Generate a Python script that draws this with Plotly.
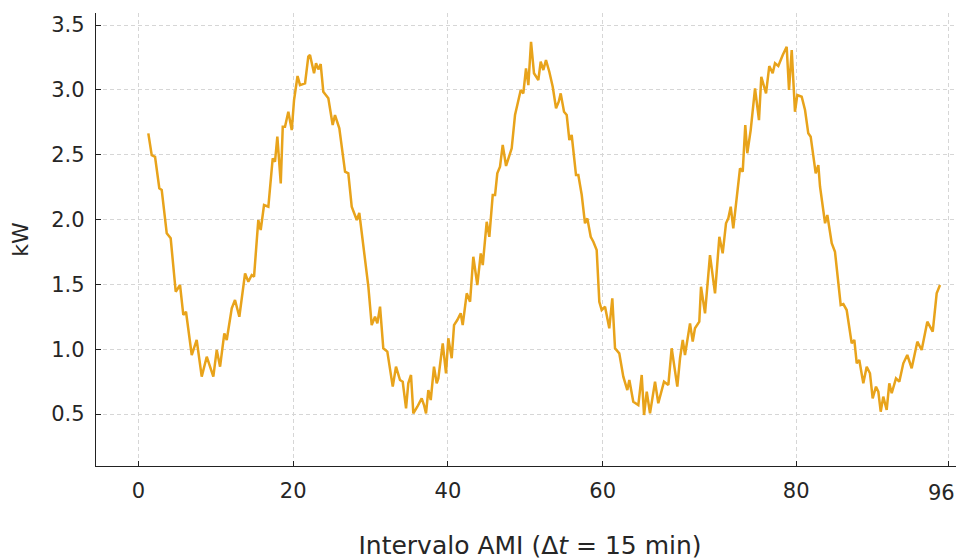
import plotly.graph_objects as go

# Traced vertices of the load curve (interval index on x, kW on y)
interval = [
    1.29, 1.73, 2.16, 2.71, 3.02, 3.67, 4.18, 4.83, 5.39, 5.81, 6.16, 6.90, 7.54, 8.19, 8.84,
    9.69, 10.13, 10.56, 11.11, 11.42, 12.07, 12.49, 13.05, 13.79, 14.21, 14.65, 14.95, 15.50,
    15.81, 16.24, 16.80, 17.36, 17.66, 17.96, 18.40, 18.66, 18.95, 19.38, 19.82, 20.12,
    20.57, 20.89, 21.54, 21.96, 22.18, 22.70, 22.96, 23.26, 23.56, 23.90, 24.55, 25.11, 25.41,
    25.97, 26.71, 27.13, 27.57, 28.22, 28.55, 29.72, 30.15, 30.58, 30.88, 31.23, 31.65, 32.17,
    32.87, 33.29, 33.81, 34.16, 34.59, 34.88, 35.23, 35.53, 36.05, 36.61, 36.91, 37.17, 37.47,
    37.78, 38.20, 38.55, 38.76, 39.33, 39.75, 40.05, 40.49, 40.79, 41.21, 41.65, 41.91, 42.43,
    42.86, 43.28, 43.80,
    44.24, 44.50, 45.01, 45.35, 45.79, 46.09, 46.38, 46.73, 47.08, 47.51, 47.93, 48.24, 48.67,
    49.41, 49.74, 50.09, 50.39, 50.74, 51.12, 51.68, 51.99, 52.33, 52.67, 53.10, 53.54, 53.97,
    54.32, 54.57, 55.00, 55.35, 55.69, 55.99, 56.55, 56.85, 57.29, 57.71, 58.01, 58.45, 58.79,
    59.22, 59.56, 59.87, 60.30, 60.85, 61.24, 61.59, 62.14, 62.66, 63.18, 63.44, 63.95, 64.60,
    65.04, 65.34, 65.69, 66.11,
    66.76, 67.18, 67.92, 68.48, 68.91, 69.64, 69.99, 70.34, 70.63, 71.28, 71.63, 71.92, 72.48,
    72.70, 73.22, 73.86, 74.51, 75.07, 75.50, 75.93, 76.23, 76.54, 76.87, 77.39, 77.74, 78.09,
    78.42, 78.68, 79.12, 79.68, 80.19, 80.49, 81.10, 81.52, 81.96, 82.26, 82.69, 83.26, 83.77,
    84.07, 84.42, 84.84, 85.14, 85.71, 86.14, 86.56, 86.87, 87.52, 87.86,
    88.08, 88.73, 89.02, 89.59, 90.01, 90.75, 91.09, 91.52, 92.17, 92.51, 92.82, 93.15, 93.67,
    94.11, 94.53, 94.88, 95.31, 95.61, 95.92, 96.25, 96.69, 97.03, 97.34, 97.89, 98.32, 98.84,
    99.35, 99.92, 100.65, 101.21, 101.94, 102.64, 103.15, 103.58,
]

load_kw = [
    2.665, 2.497, 2.484, 2.241, 2.228, 1.894, 1.855, 1.443, 1.495, 1.264, 1.289, 0.955, 1.071,
    0.788, 0.942, 0.788, 0.994, 0.865, 1.122, 1.071, 1.315, 1.379, 1.250, 1.585, 1.520, 1.572,
    1.559, 1.996, 1.919, 2.112, 2.099, 2.472, 2.446, 2.639, 2.279, 2.716, 2.716, 2.831, 2.690,
    2.922,
    3.107, 3.037, 3.050, 3.256, 3.269, 3.128, 3.205, 3.158, 3.199, 2.986, 2.935, 2.729, 2.806,
    2.703, 2.369, 2.356, 2.099, 1.996, 2.052, 1.482, 1.186, 1.250, 1.199, 1.328, 1.007, 0.981,
    0.711, 0.865, 0.762, 0.749, 0.544, 0.737, 0.801, 0.505, 0.556, 0.621, 0.569, 0.505, 0.685,
    0.608, 0.865, 0.737, 0.775, 1.045, 0.814, 1.084, 0.930, 1.186, 1.225, 1.277, 1.186, 1.431,
    1.366, 1.713, 1.495,
    1.739, 1.649, 1.983, 1.867, 2.189, 2.189, 2.356, 2.407, 2.575, 2.413, 2.484, 2.549, 2.806,
    2.999, 2.973, 3.166, 3.037, 3.371, 3.128, 3.076, 3.217, 3.153, 3.230, 3.140, 3.024, 2.858,
    2.909, 2.973, 2.831, 2.806, 2.613, 2.652, 2.343, 2.343, 2.189, 1.971, 2.009, 1.867, 1.829,
    1.765, 1.366, 1.302, 1.328, 1.161, 1.392, 1.007, 0.968, 0.788, 0.685, 0.762, 0.595, 0.569,
    0.801, 0.492, 0.672, 0.505,
    0.749, 0.583, 0.749, 0.724, 1.007, 0.711, 0.930, 1.071, 0.955, 1.199, 1.058, 1.161, 1.212,
    1.482, 1.277, 1.726, 1.431, 1.867, 1.739, 1.971, 2.009, 2.099, 1.932, 2.228, 2.395, 2.369,
    2.729, 2.511, 2.690, 3.012, 2.767, 3.101, 2.973, 3.184, 3.128, 3.205, 3.184, 3.269, 3.333,
    2.999, 3.307, 2.831, 2.960, 2.947, 2.845, 2.665, 2.639, 2.356, 2.420,
    2.253, 1.971, 2.035, 1.817, 1.752, 1.341, 1.348, 1.302, 1.045, 1.071, 0.891, 0.917, 0.737,
    0.865, 0.814, 0.621, 0.711, 0.672, 0.518, 0.634, 0.531, 0.737, 0.660, 0.775, 0.749, 0.891,
    0.955, 0.853, 1.058, 0.994, 1.212, 1.135, 1.431, 1.495,
]

x_tick_vals = [0, 20, 40, 60, 85, 104.7]
x_tick_text = ["0", "20", "40", "60", "80", "96"]
y_tick_vals = [0.5, 1.0, 1.5, 2.0, 2.5, 3.0, 3.5]
y_tick_text = ["0.5", "1.0", "1.5", "2.0", "2.5", "3.0", "3.5"]

FONT = "DejaVu Sans"
TXT = "#262626"

fig = go.Figure(
    go.Scatter(
        x=interval,
        y=load_kw,
        mode="lines",
        line=dict(color="#E8A31B", width=2.5),
        hoverinfo="skip",
    )
)

fig.update_layout(
    width=956,
    height=552,
    margin=dict(l=88, r=0, t=5, b=94),
    paper_bgcolor="white",
    plot_bgcolor="white",
    showlegend=False,
    font=dict(family=FONT, size=21, color=TXT),
)

# last tick label drawn as an annotation nudged inward so it is not clipped at the edge
fig.add_annotation(
    x=x_tick_vals[-1],
    xref="x",
    y=0,
    yref="paper",
    yanchor="top",
    xanchor="center",
    xshift=-7,
    yshift=-13,
    text=x_tick_text[-1],
    showarrow=False,
    font=dict(family=FONT, size=21, color=TXT),
)

fig.update_xaxes(
    automargin=False,
    range=[-5.47, 106.68],
    tickmode="array",
    tickvals=x_tick_vals,
    ticktext=x_tick_text[:-1] + [""],
    showgrid=True,
    gridcolor="#d6d6d6",
    griddash="4px,3px",
    gridwidth=1,
    zeroline=False,
    showline=True,
    linecolor="#222",
    linewidth=1.3,
    ticks="inside",
    ticklen=5,
    tickcolor="#222",
    tickfont=dict(family=FONT, size=21, color=TXT),
    ticklabelstandoff=6,
    title=dict(
        text="Intervalo AMI (Δ<i>t</i> = 15 min)",
        font=dict(family=FONT, size=25, color=TXT),
        standoff=37,
    ),
)

fig.update_yaxes(
    automargin=False,
    range=[0.099, 3.593],
    tickmode="array",
    tickvals=y_tick_vals,
    ticktext=y_tick_text,
    showgrid=True,
    gridcolor="#d6d6d6",
    griddash="4px,3px",
    gridwidth=1,
    zeroline=False,
    showline=True,
    linecolor="#222",
    linewidth=1.3,
    ticks="inside",
    ticklen=5,
    tickcolor="#222",
    tickfont=dict(family=FONT, size=21, color=TXT),
    ticklabelstandoff=6,
    title=dict(
        text="kW",
        font=dict(family=FONT, size=22, color=TXT),
        standoff=20,
    ),
)

fig.write_html("out.html")
